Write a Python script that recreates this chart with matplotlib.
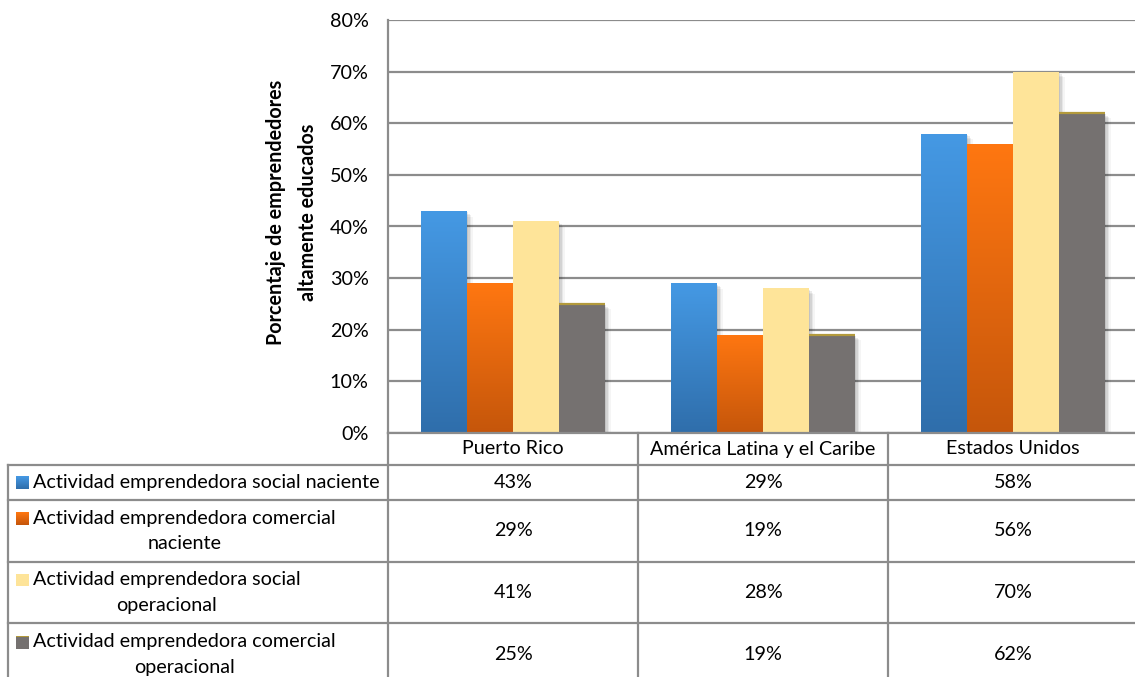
import numpy as np
import matplotlib
matplotlib.use("Agg")
import matplotlib.pyplot as plt
from matplotlib.colors import LinearSegmentedColormap
from matplotlib import patheffects as pe

# ---- data -------------------------------------------------------------
categories = ["Puerto Rico", "América Latina y el Caribe", "Estados Unidos"]
series_names = [
    "Actividad emprendedora social naciente",
    "Actividad emprendedora comercial\nnaciente",
    "Actividad emprendedora social\noperacional",
    "Actividad emprendedora comercial\noperacional",
]
social_naciente = [43, 29, 58]
comercial_naciente = [29, 19, 56]
social_operacional = [41, 28, 70]
comercial_operacional = [25, 19, 62]
series_values = [social_naciente, comercial_naciente,
                 social_operacional, comercial_operacional]
y_ticks = [0, 10, 20, 30, 40, 50, 60, 70, 80]
y_label = "Porcentaje de emprendedores\naltamente educados"

# ---- style ------------------------------------------------------------
FONT = "Lato"
FS = 14.2
GRID = "#8c8c8c"
# (top colour, bottom colour) for each series; equal pairs are flat fills
fills = [("#4599e4", "#2f6eab"),
         ("#ff7711", "#c5560b"),
         ("#fee499", "#fee499"),
         ("#757170", "#757170")]

W, H = 1135, 677
fig = plt.figure(figsize=(W / 100, H / 100), dpi=100)
plt.rcParams["font.family"] = [FONT, "DejaVu Sans"]


def fx(x):
    return x / W


def fy(y):
    return 1 - y / H


# plot area in pixel terms: left 388, top 20, bottom 433, width 750
ax = fig.add_axes([fx(388), fy(433), 750 / W, 413 / H])
ax.set_xlim(0, 3)
ax.set_ylim(0, 80)

n = len(series_values)
bar_w = 0.184
offsets = (np.arange(n) - (n - 1) / 2) * bar_w
x = np.arange(len(categories)) + 0.5

shadow = [pe.SimplePatchShadow(offset=(o, -o), shadow_rgbFace="k", alpha=a)
          for o, a in ((4, 0.04), (3, 0.06), (2, 0.08), (1, 0.08))] + [pe.Normal()]

for i, (vals, (top, bot)) in enumerate(zip(series_values, fills)):
    bars = ax.bar(x + offsets[i], vals, width=bar_w, color=top,
                  linewidth=0, zorder=3)
    for b in bars:
        b.set_path_effects(shadow)
        if top != bot:
            cmap = LinearSegmentedColormap.from_list("g", [bot, top])
            grad = np.linspace(0, 1, 256).reshape(-1, 1)
            im = ax.imshow(grad, extent=(b.get_x(), b.get_x() + b.get_width(),
                                         0, b.get_height()),
                           origin="lower", aspect="auto", cmap=cmap,
                           zorder=3.1, interpolation="bilinear")
            im.set_clip_path(b)
    if i == n - 1:
        # thin olive rim on the top edge of the grey bars
        for b in bars:
            ax.plot([b.get_x(), b.get_x() + b.get_width()],
                    [b.get_height(), b.get_height()],
                    color="#b39a3c", lw=1.6, zorder=3.2,
                    solid_capstyle="butt")

ax.set_xlim(0, 3)
ax.set_ylim(0, 80)
ax.set_yticks(y_ticks)
ax.set_yticklabels([f"{v}%" for v in y_ticks], fontsize=FS, family=FONT)
ax.tick_params(axis="y", length=0, pad=14)
ax.set_xticks([])
ax.yaxis.grid(True, color=GRID, lw=1.6, zorder=1)
ax.set_axisbelow(True)
for s in ("top", "right", "bottom"):
    ax.spines[s].set_visible(False)
ax.spines["left"].set_color(GRID)
ax.spines["left"].set_linewidth(1.6)
ax.spines["left"].set_zorder(4)

ax.text(-0.128, 0.535, y_label, transform=ax.transAxes, rotation=90,
        ha="center", va="center", fontsize=FS, fontweight="bold",
        family=FONT, multialignment="center", linespacing=1.7)

# ---- data table under the plot -----------------------------------------
col_edges = [388, 638, 888, 1138]
row_edges = [433, 465, 500, 562, 623, 686]
lkw = dict(color=GRID, lw=1.6, transform=fig.transFigure, clip_on=False)

# horizontal rules
fig.add_artist(plt.Line2D([fx(388), fx(1138)], [fy(433), fy(433)], **lkw))
for yy in row_edges[1:]:
    fig.add_artist(plt.Line2D([fx(8), fx(1138)], [fy(yy), fy(yy)], **lkw))
# vertical rules
fig.add_artist(plt.Line2D([fx(8), fx(8)], [fy(465), fy(686)], **lkw))
for xx in col_edges:
    fig.add_artist(plt.Line2D([fx(xx), fx(xx)], [fy(433), fy(686)], **lkw))

# column headers
for j, cat in enumerate(categories):
    cx = (col_edges[j] + col_edges[j + 1]) / 2
    fig.text(fx(cx), fy(449), cat, ha="center", va="center",
             fontsize=FS, family=FONT)

fig.canvas.draw()
renderer = fig.canvas.get_renderer()

for i, (name, vals, (top, bot)) in enumerate(zip(series_names, series_values, fills)):
    r0, r1 = row_edges[i + 1], row_edges[i + 2]
    lines = name.split("\n")
    rc = (r0 + r1) / 2
    if len(lines) == 1:
        ys = [rc]
    else:
        ys = [rc - 12.5, rc + 12.5]
    t1 = fig.text(fx(33), fy(ys[0]), lines[0], ha="left", va="center",
                  fontsize=FS, family=FONT)
    bb = t1.get_window_extent(renderer)
    if len(lines) > 1:
        cxp = (bb.x0 + bb.x1) / 2
        fig.text(cxp / W, fy(ys[1]), lines[1], ha="center", va="center",
                 fontsize=FS, family=FONT)
    # legend key
    key_y = ys[0]
    cmap = LinearSegmentedColormap.from_list("k", [bot, top])
    kax = fig.add_axes([fx(16), fy(key_y + 6.5), 13 / W, 13 / H])
    kax.imshow(np.linspace(0, 1, 32).reshape(-1, 1), origin="lower",
               aspect="auto", cmap=cmap)
    if i == n - 1:
        kax.axhline(31, color="#b39a3c", lw=1.5)
    kax.axis("off")
    for j, v in enumerate(vals):
        cx = (col_edges[j] + col_edges[j + 1]) / 2
        fig.text(fx(cx), fy(rc), f"{v}%", ha="center", va="center",
                 fontsize=FS, family=FONT)

fig.savefig("out.png", dpi=100, facecolor="white")
